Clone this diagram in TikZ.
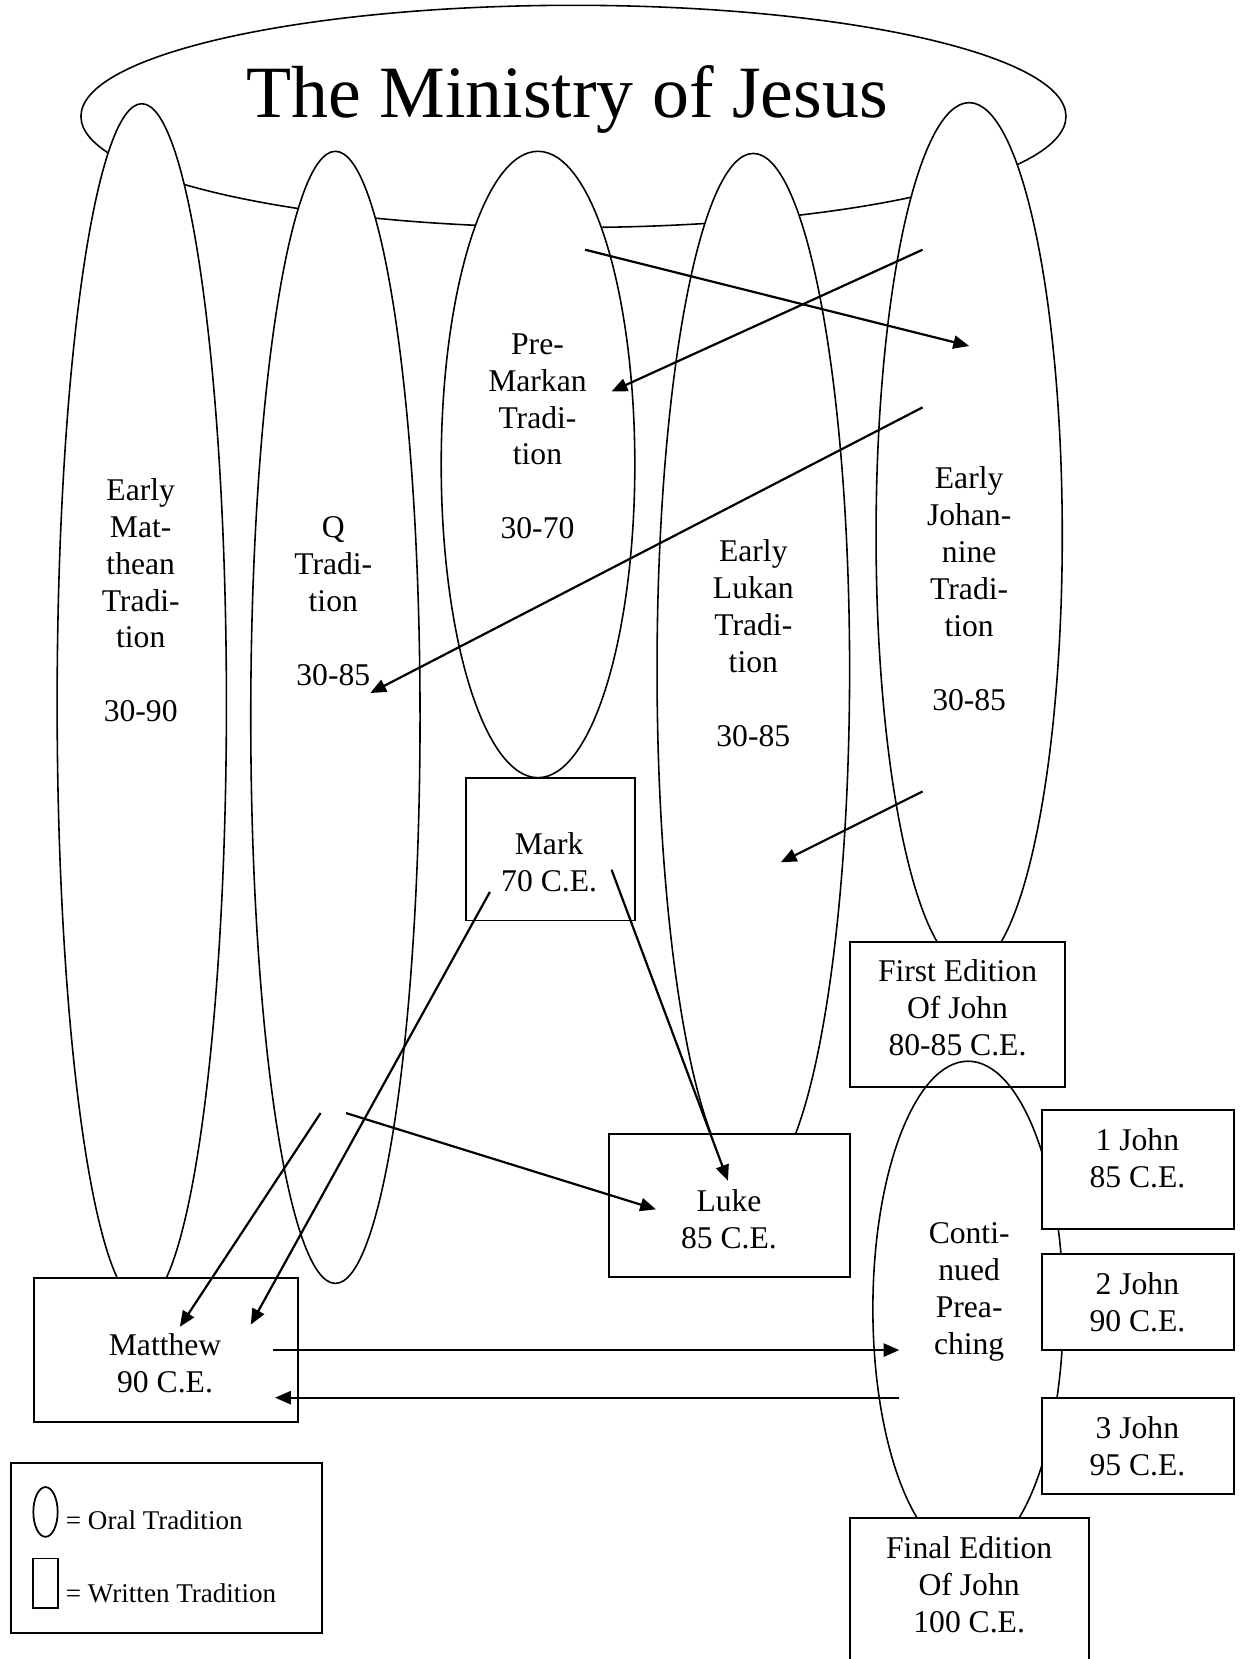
\documentclass[tikz,border=0pt]{standalone}
\usepackage{fontspec}
\setmainfont{Liberation Serif}
\usetikzlibrary{shapes.geometric,arrows.meta}
\newlength\un
\setlength\un{0.02116cm}
\begin{document}
\begin{tikzpicture}[x=0.02116cm,y=-0.02116cm,
  oval/.style={ellipse,draw,line width=0.9pt,fill=white,inner sep=0pt,outer sep=0pt},
  wbox/.style={rectangle,draw,line width=1.1pt,fill=white,inner sep=0pt,outer sep=0pt},
  lbl/.style={align=center,inner sep=0pt,font=\fontsize{18}{21}\selectfont},
  leg/.style={anchor=west,inner sep=0pt,font=\fontsize{15.4}{18}\selectfont},
  arr/.style={line width=1.25pt,-{Triangle[length=9pt,width=7.5pt]}}]
\useasboundingbox (0,0) rectangle (1172,1568);
\clip (0,0) rectangle (1172,1568);
% big ellipse
\node[oval,fill=none,minimum width=931*\un,minimum height=210*\un] (ministry) at (542,110) {};
% oral traditions
\node[oval,minimum width=160*\un,minimum height=1134*\un] (matt) at (134,665) {};
\node[oval,minimum width=160*\un,minimum height=1070*\un] (qtr) at (317,678) {};
\node[oval,minimum width=183*\un,minimum height=592*\un] (premark) at (508.5,439) {};
\node[oval,minimum width=182*\un,minimum height=976*\un] (lukan) at (712,633) {};
\node[oval,minimum width=176*\un,minimum height=818*\un] (johan) at (916,506) {};
% written
\node[wbox,minimum width=160*\un,minimum height=135*\un] (mark) at (520,802.5) {};
\node[wbox,minimum width=204*\un,minimum height=137*\un] (first) at (905,958.5) {};
\node[oval,fill=none,minimum width=180*\un,minimum height=468*\un] (cont) at (915,1237) {};
\node[wbox,minimum width=181*\un,minimum height=113*\un] (jone) at (1075.5,1105.5) {};
\node[wbox,minimum width=181*\un,minimum height=91*\un] (jtwo) at (1075.5,1230.5) {};
\node[wbox,minimum width=181*\un,minimum height=91*\un] (jthree) at (1075.5,1366.5) {};
\node[wbox,minimum width=227*\un,minimum height=135*\un] (luke) at (689.5,1139.5) {};
\node[wbox,minimum width=250*\un,minimum height=136*\un] (matthew) at (157,1276) {};
\node[wbox,minimum width=226*\un,minimum height=170*\un] (final) at (916,1520) {};
% legend
\node[wbox,minimum width=294*\un,minimum height=160*\un] (legend) at (157,1463) {};
\node[oval,line width=1pt,minimum width=23*\un,minimum height=47*\un] (legoval) at (43,1429) {};
\node[wbox,line width=1pt,minimum width=23.5*\un,minimum height=47*\un] (legbox) at (43.25,1496.5) {};
\node[leg] (legoraltxt) at (62,1437) {= Oral Tradition};
\node[leg] (legwrittxt) at (62,1506) {= Written Tradition};
% labels
\node[lbl] (tmatt) at (133,570.5) {\strut Early\\Mat-\\thean\\Tradi-\\tion\\[21pt]30-90\strut};
\node[lbl] (tq) at (315,571) {\strut Q\\Tradi-\\tion\\[21pt]30-85\strut};
\node[lbl] (tpre) at (508,415) {\strut Pre-\\Markan\\Tradi-\\tion\\[21pt]30-70\strut};
\node[lbl] (tluk) at (712,611) {\strut Early\\Lukan\\Tradi-\\tion\\[21pt]30-85\strut};
\node[lbl] (tjoh) at (916,559.5) {\strut Early\\Johan-\\nine\\Tradi-\\tion\\[21pt]30-85\strut};
\node[lbl] (tcont) at (916,1220.5) {\strut Conti-\\nued\\Prea-\\ching\strut};
\node[lbl] (tmark) at (519,818.5) {\strut Mark\\70 C.E.\strut};
\node[lbl] (tfirst) at (905,956) {\strut First Edition\\Of John\\80-85 C.E.\strut};
\node[lbl] (tjone) at (1075,1098) {\strut 1 John\\85 C.E.\strut};
\node[lbl] (tjtwo) at (1075,1234) {\strut 2 John\\90 C.E.\strut};
\node[lbl] (tjthree) at (1075,1370) {\strut 3 John\\95 C.E.\strut};
\node[lbl] (tluke) at (689,1155.5) {\strut Luke\\85 C.E.\strut};
\node[lbl] (tmatthew) at (156,1291.5) {\strut Matthew\\90 C.E.\strut};
\node[lbl] (tfinal) at (916,1501) {\strut Final Edition\\Of John\\100 C.E.\strut};
% title
\node[anchor=base,inner sep=0pt,font=\fontsize{42}{50}\selectfont] (title) at (536,111.5) {The Ministry of Jesus};
% arrow endpoints
\coordinate (a1s) at (553,236);  \coordinate (a1e) at (916,327);
\coordinate (a2s) at (872,236);  \coordinate (a2e) at (578,370);
\coordinate (a3s) at (872,385);  \coordinate (a3e) at (350,655);
\coordinate (a4s) at (872,748);  \coordinate (a4e) at (738,815);
\coordinate (a5s) at (463,843);  \coordinate (a5e) at (237,1252);
\coordinate (a6s) at (578,822);  \coordinate (a6e) at (688,1116);
\coordinate (a7s) at (303,1052); \coordinate (a7e) at (170,1254);
\coordinate (a8s) at (327,1052); \coordinate (a8e) at (620,1143);
\coordinate (a9s) at (258,1276); \coordinate (a9e) at (850,1276);
\coordinate (a10s) at (850,1321); \coordinate (a10e) at (260,1321);
\foreach \i in {1,...,10} \draw[arr] (a\i s) -- (a\i e);
\end{tikzpicture}
\end{document}
